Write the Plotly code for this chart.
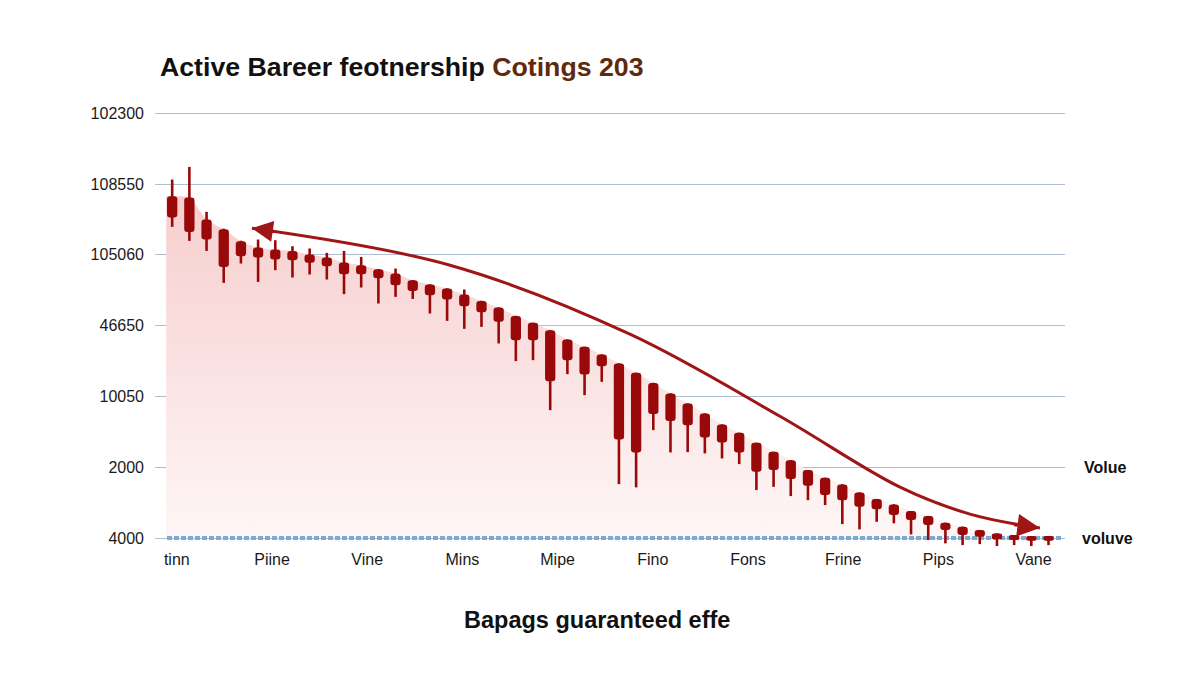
import plotly.graph_objects as go

# ---- data ----
opens = [482.8, 481.0, 449.9, 436.2, 419.3, 410.4, 407.6, 405.6, 400.5, 396.3,
         389.2, 385.4, 379.8, 373.7, 364.2, 358.2, 352.5, 344.0, 335.0, 325.7,
         313.8, 304.0, 293.6, 280.5, 270.1, 259.3, 246.6, 233.4, 219.2, 204.3,
         190.2, 176.0, 160.5, 148.7, 134.5, 121.8, 110.1, 96.0, 85.1, 75.8,
         64.5, 55.1, 47.6, 38.1, 31.1, 21.6, 16.0, 11.3, 6.6, 4.2,
         2.8, 2.8]
closes = [452.7, 432.4, 421.7, 383.0, 398.1, 396.3, 393.5, 392.5, 388.7, 384.0,
          372.7, 372.7, 367.1, 357.2, 349.1, 343.1, 337.0, 327.5, 319.1, 305.4,
          279.5, 279.5, 221.6, 251.3, 231.1, 242.8, 139.3, 121.0, 175.1, 165.2,
          159.5, 142.2, 135.1, 121.0, 93.6, 96.0, 83.3, 73.8, 60.7, 53.6,
          44.2, 40.9, 32.5, 25.4, 18.4, 11.3, 4.2, 1.8, -1.8, -2.8,
          -3.8, -3.8]
highs = [506.4, 524.2, 460.7, 437.0, 420.0, 421.7, 420.7, 412.2, 409.0, 402.8,
         405.6, 397.1, 380.0, 380.7, 364.5, 358.5, 352.8, 351.1, 335.3, 326.0,
         314.0, 304.2, 294.0, 280.7, 270.3, 259.5, 247.0, 233.6, 219.4, 204.5,
         190.4, 176.2, 160.7, 148.9, 134.7, 122.0, 110.3, 96.2, 85.3, 76.0,
         64.7, 55.3, 47.8, 38.3, 31.3, 21.8, 16.2, 11.5, 6.8, 4.4,
         3.0, 3.0]
lows = [439.5, 419.7, 405.6, 360.4, 387.8, 361.8, 378.4, 368.0, 372.3, 365.2,
        344.5, 353.9, 331.3, 340.7, 337.8, 317.2, 306.8, 295.5, 298.3, 274.9,
        249.9, 251.3, 180.7, 231.5, 201.9, 220.7, 76.2, 71.6, 152.5, 121.0,
        121.4, 119.6, 112.5, 104.5, 67.8, 72.4, 59.3, 53.6, 46.6, 19.8,
        12.3, 23.0, 20.8, 5.2, -2.8, -7.5, -9.9, -8.5, -11.3, -9.9,
        -11.3, -9.9]
periods = list(range(len(opens)))

trend_x = [4.64, 16.17, 26.64, 35.37, 42.36, 46.43, 50.5]
trend_y = [437.6, 385.4, 288.0, 172.0, 71.9, 33.9, 14.1]

x_tick_pos = [0.27, 5.81, 11.35, 16.89, 22.43, 27.97, 33.51, 39.05, 44.59, 50.13]
x_tick_labels = ["tinn", "Piine", "Vine", "Mins", "Mipe", "Fino", "Fons",
                 "Frine", "Pips", "Vane"]
y_tick_vals = [0, 100, 200, 300, 400, 500, 600]
y_tick_labels = ["4000", "2000", "10050", "46650", "105060", "108550", "102300"]

RED = "#9a0909"
ARROW = "#a01515"
GRID = "#aebfd3"
FONT = "Liberation Sans"
XR = [-1.0, 51.96]
YR = [-14, 606]

fig = go.Figure()

# gradient area under the series (bottom layer)
fx = [periods[0] - 0.35] + periods + [periods[-1] + 0.35]
fy = [opens[0]] + opens + [opens[-1]]
fig.add_trace(go.Scatter(
    x=fx, y=fy, mode="lines", line=dict(width=0, shape="spline", smoothing=0.6),
    fill="tozeroy",
    fillgradient=dict(type="vertical",
                      colorscale=[[0, "rgba(254,246,246,1)"], [1, "rgba(247,206,206,1)"]]),
    hoverinfo="skip", showlegend=False))

# baseline dashed strip
fig.add_trace(go.Scatter(
    x=[periods[0] - 0.3, periods[-1] + 0.8], y=[0, 0], mode="lines",
    line=dict(color="#7eaad0", width=4, dash="5px,2px"),
    hoverinfo="skip", showlegend=False))

# bodies (overlay axes so they sit above the fill)
fig.add_trace(go.Bar(
    x=periods, y=[o - c for o, c in zip(opens, closes)], base=closes,
    width=0.6, marker=dict(color=RED, line=dict(width=0), cornerradius=3),
    xaxis="x2", yaxis="y2", showlegend=False))

# wicks
wx, wy = [], []
for i, h, l in zip(periods, highs, lows):
    wx += [i, i, None]
    wy += [l, h, None]
fig.add_trace(go.Scatter(x=wx, y=wy, mode="lines",
                         line=dict(color=RED, width=2.6),
                         xaxis="x2", yaxis="y2",
                         hoverinfo="skip", showlegend=False))

# trend arrow curve
fig.add_trace(go.Scatter(x=trend_x, y=trend_y, mode="lines",
                         line=dict(color=ARROW, width=3, shape="spline", smoothing=1.0),
                         xaxis="x2", yaxis="y2",
                         hoverinfo="skip", showlegend=False))

annotations = [
    dict(x=trend_x[0], y=trend_y[0], ax=trend_x[0] + 1.4, ay=trend_y[0] - 5,
         xref="x", yref="y", axref="x", ayref="y", showarrow=True,
         arrowhead=2, arrowsize=1.4, arrowwidth=3, arrowcolor=ARROW, text=""),
    dict(x=trend_x[-1], y=trend_y[-1], ax=trend_x[-1] - 1.6, ay=trend_y[-1] + 5,
         xref="x", yref="y", axref="x", ayref="y", showarrow=True,
         arrowhead=2, arrowsize=1.5, arrowwidth=3, arrowcolor=ARROW, text=""),
    dict(x=1.0187, y=100, xref="paper", yref="y", xanchor="left", yanchor="middle",
         text="<b>Volue</b>", showarrow=False, font=dict(size=16, color="#111", family=FONT)),
    dict(x=1.0165, y=0, xref="paper", yref="y", xanchor="left", yanchor="middle",
         text="<b>voluve</b>", showarrow=False, font=dict(size=16, color="#111", family=FONT)),
    dict(x=0.4857, y=-0.1642, xref="paper", yref="paper",
         xanchor="center", yanchor="middle", showarrow=False,
         text="<b>Bapags guaranteed effe</b>",
         font=dict(size=23.5, color="#111", family=FONT)),
]

fig.update_layout(
    width=1200, height=675,
    paper_bgcolor="white", plot_bgcolor="white",
    margin=dict(l=147, r=143, t=100.75, b=135.1),
    barmode="overlay",
    font=dict(family=FONT, color="#1a1a1a"),
    title=dict(
        text="<b>Active Bareer feotnership <span style='color:#5f2a0c'>Cotings 203</span></b>",
        x=152 / 1200, xref="container", xanchor="left",
        y=1 - 59 / 675, yref="container", yanchor="middle",
        font=dict(size=26.7, color="#111", family=FONT)),
    xaxis=dict(range=XR, showgrid=False, zeroline=False,
               tickmode="array", tickvals=x_tick_pos, ticktext=x_tick_labels,
               tickfont=dict(size=16, color="#1a1a1a"), ticks="", showline=False),
    yaxis=dict(range=YR, showgrid=True, gridcolor=GRID, gridwidth=1.3,
               zeroline=False, tickmode="array", tickvals=y_tick_vals,
               ticktext=y_tick_labels, tickfont=dict(size=16, color="#1a1a1a"),
               ticks="", ticklabelstandoff=10, showline=False),
    xaxis2=dict(range=XR, overlaying="x", visible=False),
    yaxis2=dict(range=YR, overlaying="y", visible=False),
    annotations=annotations,
    showlegend=False,
)

fig.write_html("out.html")
